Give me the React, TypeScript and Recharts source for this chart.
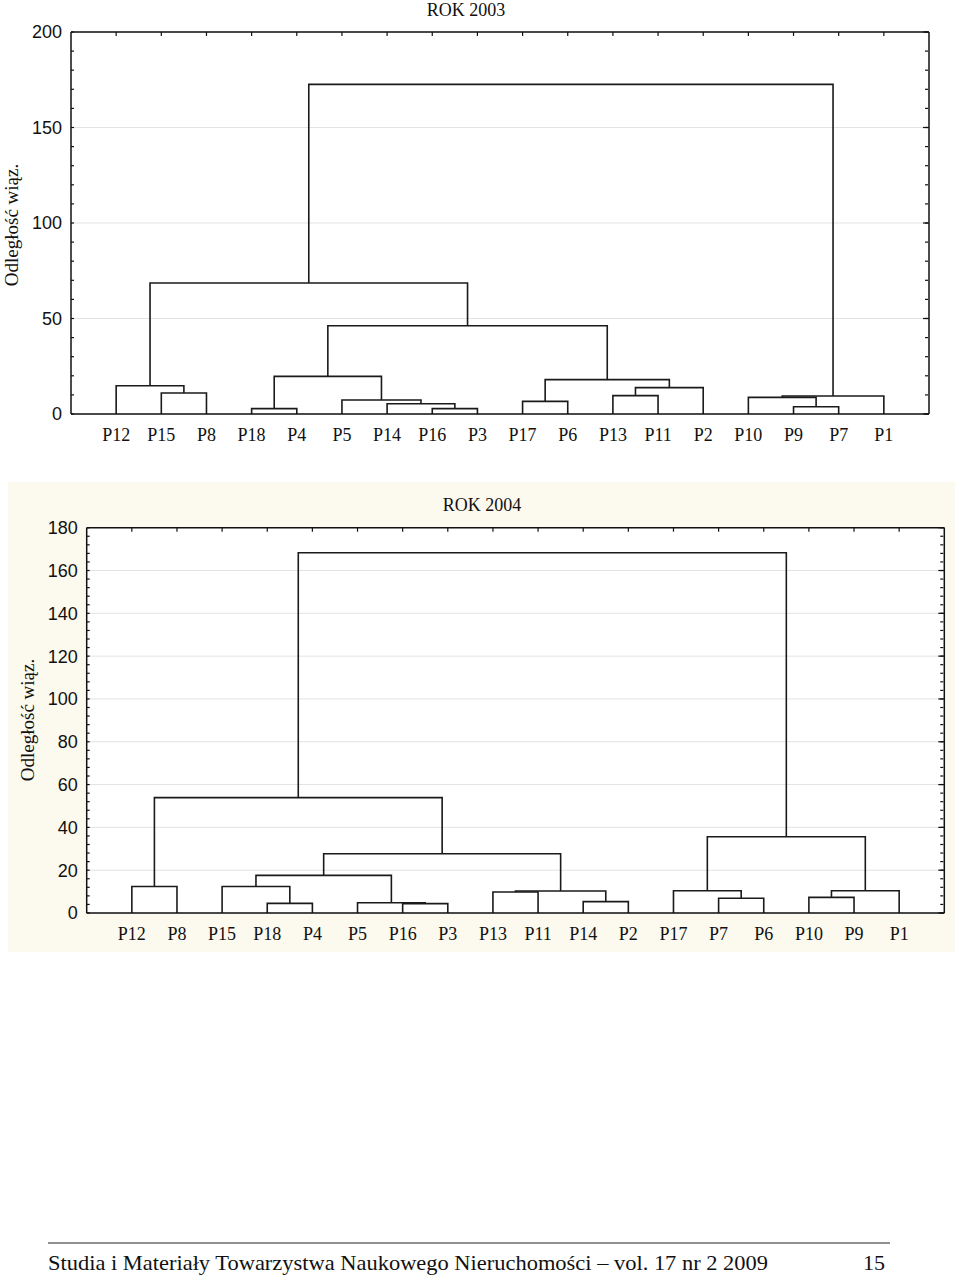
import { LineChart, Line, XAxis, YAxis, CartesianGrid } from 'recharts';

const serif = '"Liberation Serif", "DejaVu Serif", serif';
const sans = '"Liberation Sans", Arial, sans-serif';

// leaf order along the x axis
const leaves2003 = ['P12', 'P15', 'P8', 'P18', 'P4', 'P5', 'P14', 'P16', 'P3', 'P17', 'P6', 'P13', 'P11', 'P2', 'P10', 'P9', 'P7', 'P1'];
const leaves2004 = ['P12', 'P8', 'P15', 'P18', 'P4', 'P5', 'P16', 'P3', 'P13', 'P11', 'P14', 'P2', 'P17', 'P7', 'P6', 'P10', 'P9', 'P1'];

// merges: [left, right, linkage distance]; mN refers to the N-th merge of the same list
const merges2003: [string, string, number][] = [
  ['P15', 'P8', 11.0],
  ['P12', 'm0', 14.8],
  ['P18', 'P4', 2.8],
  ['P16', 'P3', 2.8],
  ['P14', 'm3', 5.4],
  ['P5', 'm4', 7.3],
  ['m2', 'm5', 19.7],
  ['P17', 'P6', 6.6],
  ['P13', 'P11', 9.6],
  ['m8', 'P2', 13.8],
  ['m7', 'm9', 18.0],
  ['m6', 'm10', 46.2],
  ['m1', 'm11', 68.6],
  ['P9', 'P7', 3.8],
  ['P10', 'm13', 8.7],
  ['m14', 'P1', 9.4],
  ['m12', 'm15', 172.6],
];

const merges2004: [string, string, number][] = [
  ['P12', 'P8', 12.4],
  ['P18', 'P4', 4.5],
  ['P15', 'm1', 12.4],
  ['P16', 'P3', 4.4],
  ['P5', 'm3', 4.8],
  ['m2', 'm4', 17.6],
  ['P13', 'P11', 9.8],
  ['P14', 'P2', 5.3],
  ['m6', 'm7', 10.3],
  ['m5', 'm8', 27.7],
  ['m0', 'm9', 53.9],
  ['P7', 'P6', 6.9],
  ['P17', 'm11', 10.4],
  ['P10', 'P9', 7.3],
  ['m13', 'P1', 10.4],
  ['m12', 'm14', 35.6],
  ['m10', 'm15', 168.3],
];

const yTicks2003 = [0, 50, 100, 150, 200];
const yTicks2004 = [0, 20, 40, 60, 80, 100, 120, 140, 160, 180];

function buildLinks(leaves: string[], merges: [string, string, number][]) {
  const pos: Record<string, { x: number; h: number }> = {};
  leaves.forEach((name, i) => {
    pos[name] = { x: i + 1, h: 0 };
  });
  return merges.map(([a, b, h], i) => {
    const A = pos[a];
    const B = pos[b];
    pos['m' + i] = { x: (A.x + B.x) / 2, h };
    return [
      { x: A.x, y: A.h },
      { x: A.x, y: h },
      { x: B.x, y: h },
      { x: B.x, y: B.h },
    ];
  });
}

interface DendroProps {
  leaves: string[];
  merges: [string, string, number][];
  yMax: number;
  yTicks: number[];
  minorStep: number;
  height: number;
  margin: { top: number; right: number; bottom: number; left: number };
}

const Dendrogram = ({ leaves, merges, yMax, yTicks, minorStep, height, margin }: DendroProps) => {
  const links = buildLinks(leaves, merges);
  const root = links[links.length - 1];
  const xTicks = leaves.map((_, i) => i + 1);
  const minor: number[] = [];
  for (let v = 0; v <= yMax; v += minorStep) minor.push(v);
  const frame = { stroke: '#111', strokeWidth: 1.5 };
  const tickStroke = { stroke: '#111', strokeWidth: 1.2 };
  const xDomain: [number, number] = [0, leaves.length + 1];
  const yDomain: [number, number] = [0, yMax];

  // the frame / tick-only axes need a series bound to them, so the root link is re-used invisibly
  const helpers: [string, string][] = [
    ['top', 'lminor'],
    ['top', 'rminor'],
    ['top', 'rmajor'],
  ];

  return (
    <LineChart width={960} height={height} margin={margin}>
      <CartesianGrid xAxisId="main" yAxisId="main" vertical={false} stroke="#e3e3e3" fill="#fff" fillOpacity={1} />
      <XAxis
        xAxisId="main"
        dataKey="x"
        type="number"
        domain={xDomain}
        ticks={xTicks}
        interval={0}
        allowDataOverflow
        tickFormatter={(v) => leaves[v - 1]}
        tickLine={false}
        tickSize={0}
        tickMargin={14}
        height={30}
        axisLine={frame}
        tick={{ fill: '#111', fontSize: 18, fontFamily: serif }}
      />
      <XAxis
        xAxisId="top"
        dataKey="x"
        orientation="top"
        mirror
        type="number"
        domain={xDomain}
        ticks={xTicks}
        interval={0}
        allowDataOverflow
        height={1}
        tickSize={4}
        tickFormatter={() => ''}
        axisLine={frame}
        tickLine={tickStroke}
      />
      <YAxis
        yAxisId="main"
        type="number"
        domain={yDomain}
        ticks={yTicks}
        interval={0}
        allowDataOverflow
        width={60}
        tickLine={false}
        tickSize={0}
        tickMargin={9}
        axisLine={frame}
        tick={{ fill: '#111', fontSize: 18, fontFamily: sans }}
      />
      <YAxis
        yAxisId="lminor"
        mirror
        type="number"
        domain={yDomain}
        ticks={minor}
        interval={0}
        allowDataOverflow
        width={1}
        tickSize={3}
        tickFormatter={() => ''}
        axisLine={false}
        tickLine={tickStroke}
      />
      <YAxis
        yAxisId="rminor"
        orientation="right"
        mirror
        type="number"
        domain={yDomain}
        ticks={minor}
        interval={0}
        allowDataOverflow
        width={1}
        tickSize={3}
        tickFormatter={() => ''}
        axisLine={false}
        tickLine={tickStroke}
      />
      <YAxis
        yAxisId="rmajor"
        orientation="right"
        mirror
        type="number"
        domain={yDomain}
        ticks={yTicks}
        interval={0}
        allowDataOverflow
        width={1}
        tickSize={6}
        tickFormatter={() => ''}
        axisLine={frame}
        tickLine={tickStroke}
      />
      {helpers.map(([xa, ya]) => (
        <Line
          key={xa + ya}
          xAxisId={xa}
          yAxisId={ya}
          data={root}
          dataKey="y"
          stroke="none"
          dot={false}
          activeDot={false}
          legendType="none"
          isAnimationActive={false}
        />
      ))}
      {links.map((d, i) => (
        <Line
          key={i}
          xAxisId="main"
          yAxisId="main"
          data={d}
          dataKey="y"
          type="linear"
          stroke="#1a1a1a"
          strokeWidth={1.6}
          dot={false}
          activeDot={false}
          isAnimationActive={false}
        />
      ))}
    </LineChart>
  );
};

export default function App() {
  return (
    <div style={{ position: 'absolute', left: 0, top: 0, width: 960, height: 1277, background: '#fff' }}>
      <div style={{ position: 'absolute', left: 0, top: 0 }}>
        <Dendrogram
          leaves={leaves2003}
          merges={merges2003}
          yMax={200}
          yTicks={yTicks2003}
          minorStep={10}
          height={460}
          margin={{ top: 32, right: 31, bottom: 16, left: 11 }}
        />
      </div>
      <div style={{ position: 'absolute', left: 8, top: 482, width: 947, height: 470, background: '#fcf9ee' }} />
      <div style={{ position: 'absolute', left: 0, top: 470 }}>
        <Dendrogram
          leaves={leaves2004}
          merges={merges2004}
          yMax={180}
          yTicks={yTicks2004}
          minorStep={4}
          height={490}
          margin={{ top: 57.7, right: 15.7, bottom: 17, left: 26.7 }}
        />
      </div>
      <svg width={960} height={1277} style={{ position: 'absolute', left: 0, top: 0, pointerEvents: 'none' }}>
        <text x={466} y={16} textAnchor="middle" fontFamily={serif} fontSize={18} fill="#111">ROK 2003</text>
        <text x={482} y={511} textAnchor="middle" fontFamily={serif} fontSize={18} fill="#111">ROK 2004</text>
        <text transform="translate(18,225) rotate(-90)" textAnchor="middle" fontFamily={serif} fontSize={19} fill="#111">Odległość wiąz.</text>
        <text transform="translate(34,720) rotate(-90)" textAnchor="middle" fontFamily={serif} fontSize={19} fill="#111">Odległość wiąz.</text>
        <line x1={48} x2={890} y1={1243} y2={1243} stroke="#222" strokeWidth={1.2} />
        <text x={48} y={1270} fontFamily={serif} fontSize={22} fill="#111" textLength={720} lengthAdjust="spacingAndGlyphs">
          Studia i Materiały Towarzystwa Naukowego Nieruchomości – vol. 17 nr 2 2009
        </text>
        <text x={885} y={1270} textAnchor="end" fontFamily={serif} fontSize={22} fill="#111">15</text>
      </svg>
    </div>
  );
}
